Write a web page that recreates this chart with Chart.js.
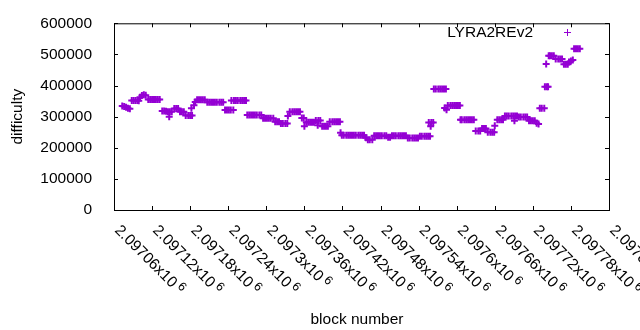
<!DOCTYPE html>
<html>
<head>
<meta charset="utf-8">
<script src="https://cdn.jsdelivr.net/npm/chart.js@4.4.1/dist/chart.umd.min.js"></script>
<style>
  html, body { margin: 0; padding: 0; background: #fff; }
  canvas { display: block; }
</style>
</head>
<body>
<canvas id="c" width="640" height="330"></canvas>
<script>
'use strict';

// ---------- data ----------
const seriesLabel = 'LYRA2REv2';
const xTitle = 'block number';
const yTitle = 'difficulty';
const xMin = 2097060, xMax = 2097840, xStep = 60;
const yMin = 0, yMax = 600000, yStep = 100000;

const blockNumber = [
  2097073, 2097076, 2097079, 2097082, 2097085,
  2097088, 2097091, 2097094, 2097097, 2097099,
  2097101, 2097104, 2097107, 2097110,
  2097114, 2097117, 2097120, 2097123, 2097126, 2097129, 2097132,
  2097136, 2097139, 2097142, 2097145, 2097147, 2097148, 2097151,
  2097155, 2097158, 2097161,
  2097164, 2097167, 2097170,
  2097173, 2097177, 2097180, 2097182, 2097183,
  2097186, 2097188,
  2097191, 2097194, 2097197, 2097200, 2097203,
  2097207, 2097210, 2097213, 2097216, 2097219, 2097222, 2097226, 2097229, 2097232,
  2097235, 2097238, 2097241, 2097244, 2097245, 2097248,
  2097249, 2097252, 2097255, 2097259, 2097262, 2097265, 2097268,
  2097270, 2097273, 2097276, 2097279, 2097282, 2097285, 2097289, 2097292,
  2097295, 2097298, 2097301, 2097304, 2097307, 2097311,
  2097314, 2097317, 2097320,
  2097323, 2097326, 2097330, 2097333, 2097334,
  2097337, 2097341, 2097344, 2097347, 2097350, 2097353,
  2097356, 2097359,
  2097360, 2097363, 2097366, 2097369, 2097372, 2097375,
  2097378, 2097381, 2097382, 2097385,
  2097388, 2097391, 2097394, 2097397,
  2097400, 2097404, 2097407, 2097410, 2097413, 2097416,
  2097417,
  2097419, 2097422, 2097426, 2097429, 2097432, 2097435, 2097438, 2097441, 2097445, 2097448, 2097451, 2097454,
  2097457, 2097460, 2097463, 2097467,
  2097470, 2097473, 2097476, 2097479, 2097482, 2097486, 2097489,
  2097492, 2097495,
  2097498, 2097501, 2097504, 2097508, 2097511, 2097514, 2097517, 2097520,
  2097523, 2097526, 2097530, 2097533, 2097536, 2097539,
  2097542, 2097545, 2097549, 2097552, 2097555,
  2097556, 2097558, 2097559, 2097560, 2097563,
  2097564, 2097567, 2097571, 2097574, 2097577, 2097580, 2097581, 2097583, 2097584,
  2097586, 2097590, 2097593, 2097596, 2097599, 2097602, 2097605,
  2097606, 2097608, 2097612, 2097615, 2097618, 2097621, 2097624, 2097627,
  2097630, 2097634, 2097637,
  2097640, 2097643, 2097646,
  2097649, 2097653, 2097656, 2097659,
  2097660,
  2097664, 2097667, 2097670, 2097673,
  2097676, 2097679, 2097682, 2097686, 2097689, 2097691, 2097692, 2097695,
  2097698, 2097701, 2097705, 2097708, 2097711,
  2097714, 2097717, 2097720, 2097723,
  2097726, 2097729,
  2097731, 2097734, 2097738,
  2097739, 2097741, 2097742, 2097744,
  2097745, 2097747, 2097750, 2097753,
  2097756, 2097760, 2097763, 2097766,
  2097769, 2097772, 2097775,
  2097777, 2097780, 2097783,
  2097785, 2097788, 2097791, 2097794
];

const difficulty = [
  334000, 333000, 330000, 327000, 325000,
  352000, 352000, 352000, 352000, 351000,
  362000, 368000, 370000, 369000,
  355000, 355000, 355000, 355000, 355000, 355000, 355000,
  318000, 318000, 317000, 316000, 300000, 316000, 316000,
  326000, 326000, 326000,
  316000, 316000, 316000,
  304000, 304000, 304000, 327000, 304000,
  337000, 347000,
  354000, 354000, 354000, 354000, 354000,
  346000, 346000, 346000, 346000, 346000, 346000, 346000, 346000, 346000,
  321000, 321000, 321000, 321000, 352000, 321000,
  352000, 352000, 352000, 352000, 352000, 352000, 352000,
  305000, 305000, 305000, 305000, 305000, 305000, 305000, 305000,
  295000, 295000, 295000, 295000, 295000, 295000,
  284000, 284000, 284000,
  278000, 278000, 278000, 278000, 302000,
  316000, 316000, 316000, 316000, 316000, 316000,
  296000, 296000,
  269000, 282000, 282000, 282000, 282000, 282000,
  288000, 272000, 288000, 288000,
  269000, 269000, 269000, 269000,
  284000, 284000, 284000, 284000, 284000, 284000,
  248000,
  240000, 240000, 240000, 240000, 240000, 240000, 240000, 240000, 240000, 240000, 240000, 240000,
  232000, 226000, 226000, 226000,
  239000, 239000, 239000, 239000, 239000, 239000, 239000,
  234000, 234000,
  239000, 239000, 239000, 239000, 239000, 239000, 239000, 239000,
  231000, 231000, 231000, 231000, 231000, 231000,
  237000, 237000, 237000, 237000, 237000,
  281000, 237000, 269000, 281000, 281000,
  389000, 389000, 389000, 389000, 389000, 389000, 328000, 389000, 322000,
  336000, 336000, 336000, 336000, 336000, 336000, 336000,
  290000, 290000, 290000, 290000, 290000, 290000, 290000, 290000,
  254000, 254000, 254000,
  262000, 262000, 262000,
  250000, 250000, 250000, 250000,
  271000,
  290000, 290000, 290000, 290000,
  302000, 302000, 302000, 302000, 302000, 287000, 302000, 302000,
  299000, 299000, 299000, 299000, 299000,
  287000, 287000, 287000, 287000,
  279000, 276000,
  327000, 327000, 327000,
  396000, 469000, 396000, 396000,
  496000, 496000, 496000, 496000,
  485000, 485000, 485000, 485000,
  468000, 468000, 468000,
  476000, 479000, 482000,
  518000, 518000, 518000, 518000
];

// ---------- style ----------
const PURPLE = '#9400d3';
const FONT_FAMILY = '"Liberation Sans", Arial, sans-serif';
const FONT_SIZE = 15.5;
const TICK = 4;

// 2.09706x10^6 style labels
function tickMain(v) { return (v / 1e6).toFixed(5).replace(/0+$/, '') + 'x10'; }

// ---------- gnuplot-like frame, ticks, labels, key ----------
const frame = {
  id: 'frame',
  afterDraw(chart) {
    const { ctx, chartArea: a, scales: { x, y } } = chart;
    ctx.save();
    ctx.strokeStyle = '#000';
    ctx.lineWidth = 1;
    ctx.beginPath();
    y.ticks.forEach(t => {
      const py = Math.round(y.getPixelForValue(t.value)) + 0.5;
      ctx.moveTo(a.left, py); ctx.lineTo(a.left + TICK, py);
      ctx.moveTo(a.right, py); ctx.lineTo(a.right - TICK, py);
    });
    x.ticks.forEach(t => {
      const px = Math.round(x.getPixelForValue(t.value)) + 0.5;
      ctx.moveTo(px, a.bottom); ctx.lineTo(px, a.bottom - TICK);
      ctx.moveTo(px, a.top); ctx.lineTo(px, a.top + TICK);
    });
    ctx.stroke();
    ctx.strokeRect(a.left + 0.5, a.top + 0.5, a.right - a.left, a.bottom - a.top);

    // rotated x tick labels
    ctx.fillStyle = '#000';
    ctx.textAlign = 'left';
    ctx.textBaseline = 'alphabetic';
    x.ticks.forEach(t => {
      const px = x.getPixelForValue(t.value);
      ctx.save();
      ctx.translate(px, a.bottom + 21);
      ctx.rotate(Math.PI / 4);
      ctx.font = `${FONT_SIZE}px ${FONT_FAMILY}`;
      const main = tickMain(t.value);
      ctx.fillText(main, 0, 0);
      const w = ctx.measureText(main).width;
      ctx.font = `${FONT_SIZE * 0.8}px ${FONT_FAMILY}`;
      ctx.fillText('6', w + 3, -5);
      ctx.restore();
    });

    // axis titles
    ctx.font = `${FONT_SIZE}px ${FONT_FAMILY}`;
    ctx.textAlign = 'center';
    ctx.fillText(xTitle, 357, 324);
    ctx.save();
    ctx.translate(21.5, (a.top + a.bottom) / 2);
    ctx.rotate(-Math.PI / 2);
    ctx.fillText(yTitle, 0, 0);
    ctx.restore();

    // key
    ctx.textAlign = 'right';
    ctx.fillText(seriesLabel, 533, 37);
    ctx.strokeStyle = PURPLE;
    ctx.fillStyle = PURPLE;
    Chart.helpers.drawPoint(ctx, { pointStyle: 'cross', radius: 3.5, rotation: 0, borderWidth: 1.2 }, 567.5, 32.5);
    ctx.restore();
  }
};

const points = blockNumber.map((b, i) => ({ x: b, y: difficulty[i] }));

new Chart(document.getElementById('c'), {
  type: 'scatter',
  data: {
    datasets: [{
      label: seriesLabel,
      data: points,
      pointStyle: 'cross',
      pointRadius: 3.5,
      borderWidth: 2,
      borderColor: PURPLE,
      backgroundColor: PURPLE
    }]
  },
  options: {
    responsive: false,
    animation: false,
    events: [],
    layout: { padding: { top: 20, right: 31, left: 0, bottom: 0 } },
    plugins: { legend: { display: false }, tooltip: { enabled: false } },
    scales: {
      x: {
        type: 'linear', min: xMin, max: xMax,
        ticks: { stepSize: xStep, display: false, autoSkip: false },
        grid: { display: false }, border: { display: false },
        afterFit: (s) => { s.height = 120; }
      },
      y: {
        min: yMin, max: yMax,
        ticks: {
          stepSize: yStep, padding: 14, color: '#000', autoSkip: false,
          font: { family: FONT_FAMILY, size: FONT_SIZE },
          callback: (v) => String(v)
        },
        grid: { display: false }, border: { display: false },
        afterFit: (s) => { s.width = 114; }
      }
    }
  },
  plugins: [frame]
});
</script>
</body>
</html>
